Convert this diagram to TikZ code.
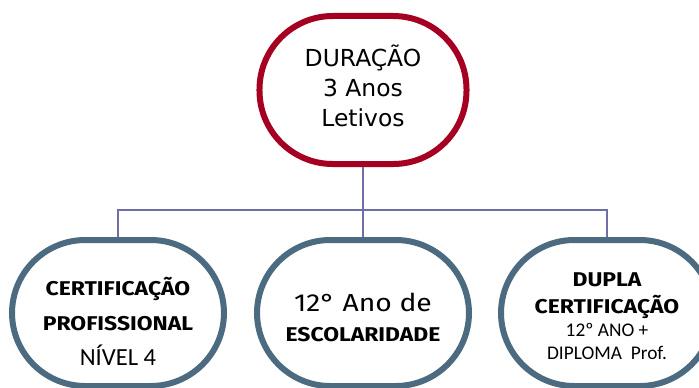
\documentclass[tikz,border=0pt]{standalone}
\usepackage{fontspec}
\setmainfont{DejaVu Sans}
\newfontfamily\comicfont[FakeStretch=1.15]{Fira Sans}
\newfontfamily\calfont{Carlito}
\usetikzlibrary{positioning}

\definecolor{durred}{HTML}{A50021}
\definecolor{slate}{HTML}{4D6B80}
\definecolor{linkblue}{HTML}{6E6EA8}

\tikzset{
  topbox/.style={draw=durred, line width=0.18cm, rounded corners=2.2cm,
    minimum width=6.21cm, minimum height=4.44cm, inner sep=0pt, fill=white},
  subbox/.style={draw=slate, line width=0.18cm, rounded corners=2.2cm,
    minimum width=6.36cm, minimum height=4.38cm, inner sep=0pt, fill=white},
  link/.style={draw=linkblue, line width=1.2pt},
  boldtxt/.style={font=\comicfont\bfseries\fontsize{17}{29.8}\selectfont},
}

\begin{document}
\begin{tikzpicture}[x=0.03cm, y=-0.03cm]
      \useasboundingbox (0,0) rectangle (699,387);
      \clip (0,0) rectangle (699,387);

      % boxes
      \node[topbox] (dur) at (363, 90) {};
      \node[subbox] (cert) at (118, 313) {};
      \node[subbox] (esc) at (363, 313) {};
      \node[subbox] (dupla) at (607, 313) {};

      % connectors
      \coordinate (split) at (363, 210);
      \draw[link] (dur.south) -- (split);
      \draw[link] (split) -| (cert.north);
      \draw[link] (split) -- (esc.north);
      \draw[link] (split) -| (dupla.north);

      % texts
      \node[align=center, font=\fontsize{20}{25.6}\selectfont] (durtxt) at (363, 86)
        {DURAÇÃO\\3 Anos\\Letivos};
      \node[align=center, boldtxt] (certtxt) at (118, 321)
        {CERTIFICAÇÃO\\PROFISSIONAL\\{\calfont\mdseries\fontsize{21}{25}\selectfont NÍVEL 4}};
      \node[align=center, font=\comicfont\fontsize{21}{25.6}\selectfont] (esctxt) at (363, 317)
        {12° Ano de\\{\bfseries\fontsize{17}{20}\selectfont ESCOLARIDADE}};
      \node[align=center, font=\calfont\fontsize{16.5}{19.6}\selectfont] (duplatxt) at (607, 316)
        {{\comicfont\bfseries\fontsize{17}{20}\selectfont DUPLA}\\[3pt]
         {\comicfont\bfseries\fontsize{17}{20}\selectfont CERTIFICAÇÃO}\\
         12º ANO +\\DIPLOMA\ \ Prof.};
\end{tikzpicture}
\end{document}
